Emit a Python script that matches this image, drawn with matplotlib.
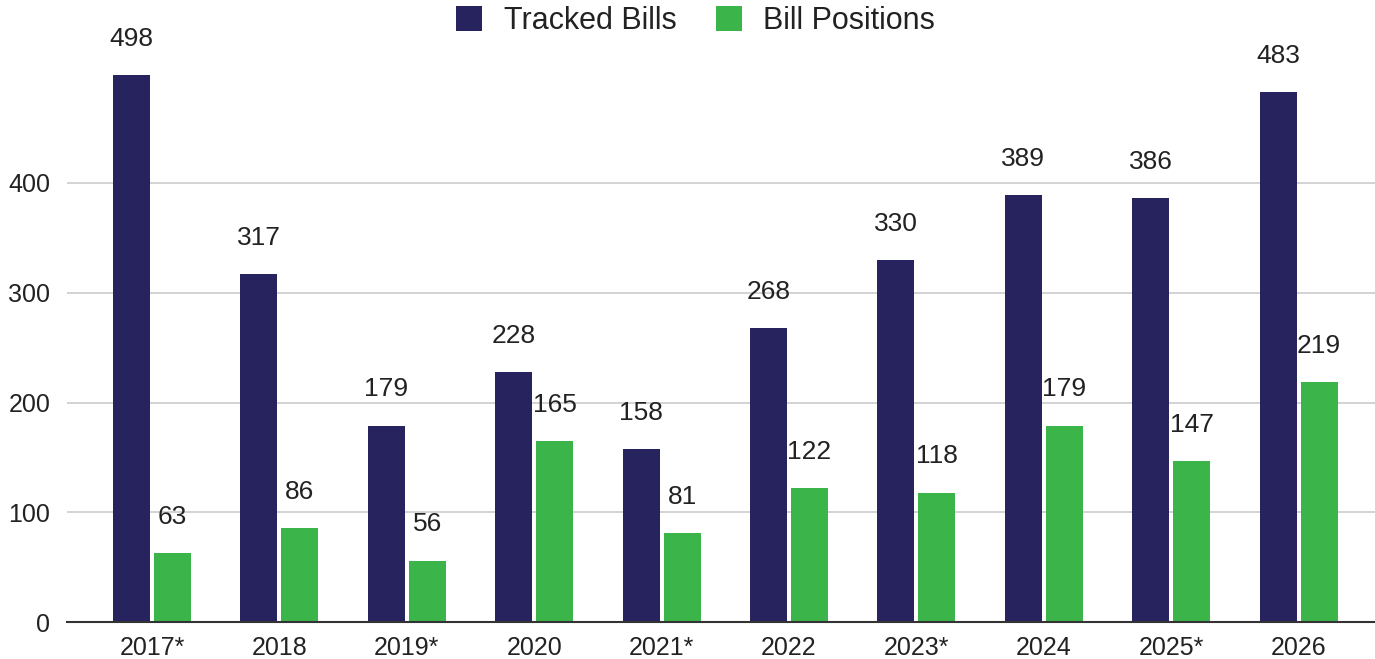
import matplotlib.pyplot as plt
import numpy as np

plt.rcParams['font.family'] = ['Liberation Sans', 'DejaVu Sans']

# values
years = ['2017*', '2018', '2019*', '2020', '2021*', '2022', '2023*', '2024', '2025*', '2026']
tracked = [498, 317, 179, 228, 158, 268, 330, 389, 386, 483]
positions = [63, 86, 56, 165, 81, 122, 118, 179, 147, 219]

dark = '#27235f'
green = '#3bb54a'

fig = plt.figure(figsize=(13.75, 6.59), dpi=100)
ax = fig.add_axes([0.0487, 0.0561, 0.9513, 0.9327])

x = np.arange(len(years))
w = 0.29
off = 0.161
b1 = ax.bar(x - off, tracked, w, color=dark, label='Tracked Bills', zorder=3)
b2 = ax.bar(x + off, positions, w, color=green, label='Bill Positions', zorder=3)

for bars in (b1, b2):
    for r in bars:
        ax.annotate(str(int(r.get_height())), (r.get_x() + r.get_width() / 2, r.get_height()),
                    xytext=(0, 26), textcoords='offset points', ha='center', va='center',
                    fontsize=19, color='#222222')

ax.set_xlim(-0.667, 9.6)
ax.set_ylim(0, 560)
ax.set_yticks([0, 100, 200, 300, 400])
ax.set_xticks(x)
ax.set_xticklabels(years)
ax.tick_params(axis='both', length=0, labelsize=18, labelcolor='#222222')
ax.tick_params(axis='x', pad=10)
ax.tick_params(axis='y', pad=12)
ax.grid(axis='y', color='#cccccc', linewidth=1.2, zorder=0)
for s in ['top', 'right', 'left']:
    ax.spines[s].set_visible(False)
ax.spines['bottom'].set_color('#333333')
ax.spines['bottom'].set_linewidth(1.5)
ax.spines['bottom'].set_zorder(4)

fig.legend(loc='center', bbox_to_anchor=(0.506, 0.968), ncol=2, frameon=False,
           fontsize=22, handlelength=0.85, handleheight=0.85, columnspacing=1.3,
           handletextpad=0.7, labelcolor='#222222')

fig.savefig('out.png', dpi=100)
